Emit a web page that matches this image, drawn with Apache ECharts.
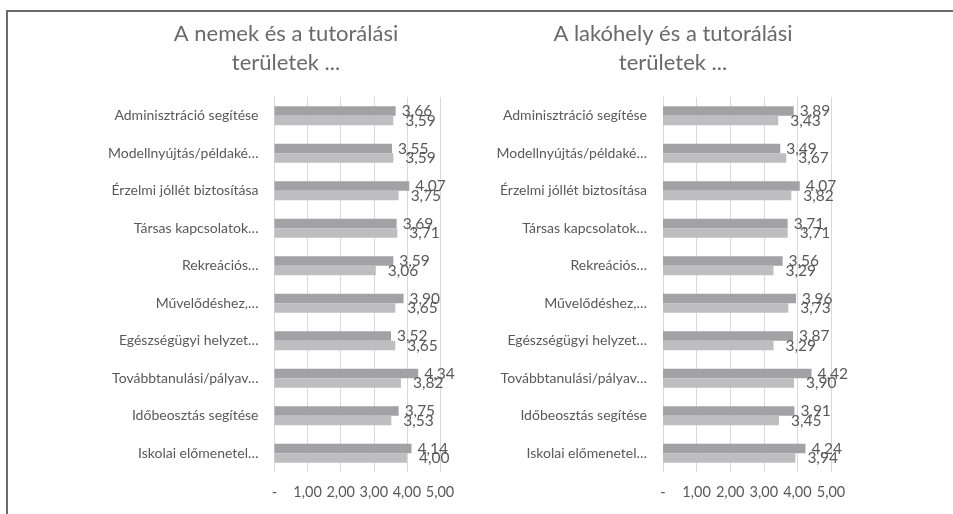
<!DOCTYPE html>
<html>
<head>
<meta charset="utf-8">
<script src="https://cdn.jsdelivr.net/npm/echarts@6/dist/echarts.min.js"></script>
<style>
  html, body { margin: 0; padding: 0; background: #fff; }
  #main { width: 953px; height: 514px; }
</style>
</head>
<body>
<div id="main"></div>
<script>
var categories = [
  'Adminisztráció segítése',
  'Modellnyújtás/példaké…',
  'Érzelmi jóllét biztosítása',
  'Társas kapcsolatok…',
  'Rekreációs…',
  'Művelődéshez,…',
  'Egészségügyi helyzet…',
  'Továbbtanulási/pályav…',
  'Időbeosztás segítése',
  'Iskolai előmenetel…'
];
// left chart: nemek
var nemekA = [3.66, 3.55, 4.07, 3.69, 3.59, 3.90, 3.52, 4.34, 3.75, 4.14];
var nemekB = [3.59, 3.59, 3.75, 3.71, 3.06, 3.65, 3.65, 3.82, 3.53, 4.00];
// right chart: lakohely
var lakA = [3.89, 3.49, 4.07, 3.71, 3.56, 3.96, 3.87, 4.42, 3.91, 4.24];
var lakB = [3.43, 3.67, 3.82, 3.71, 3.29, 3.73, 3.29, 3.90, 3.45, 3.94];
var titles = ['A nemek és a tutorálási\nterületek ...', 'A lakóhely és a tutorálási\nterületek ...'];

var font = 'Lato';
var txt = '#595959';

function fmt(v) {
  return v === 0 ? '-' : v.toFixed(2).replace('.', ',');
}

function xAx(i) {
  return {
    type: 'value', gridIndex: i, min: 0, max: 5, interval: 1,
    axisLine: { show: false }, axisTick: { show: false },
    splitLine: { lineStyle: { color: '#d9d9d9' } },
    axisLabel: { color: txt, fontFamily: font, fontSize: 14.5, margin: 13, formatter: fmt }
  };
}
function yAx(i) {
  return {
    type: 'category', gridIndex: i, data: categories, inverse: true,
    axisLine: { lineStyle: { color: '#d9d9d9' } }, axisTick: { show: false },
    axisLabel: { color: txt, fontFamily: font, fontSize: 14, margin: 16 }
  };
}
function bar(i, data, color, dist) {
  return {
    type: 'bar', xAxisIndex: i, yAxisIndex: i, data: data,
    barWidth: 9.5, barGap: 0,
    itemStyle: { color: color },
    label: {
      show: true, position: 'right', distance: dist,
      color: txt, fontFamily: font, fontSize: 15.5,
      formatter: function (p) { return fmt(p.value); }
    }
  };
}

var chart = echarts.init(document.getElementById('main'));
chart.setOption({
  animation: false,
  title: [
    { text: titles[0], left: 286, top: 19, padding: 0, textAlign: 'center',
      textStyle: { color: '#6a6a6a', fontFamily: font, fontWeight: 'normal', fontSize: 22, lineHeight: 29 } },
    { text: titles[1], left: 673, top: 19, padding: 0, textAlign: 'center',
      textStyle: { color: '#6a6a6a', fontFamily: font, fontWeight: 'normal', fontSize: 22, lineHeight: 29 } }
  ],
  grid: [
    { left: 274.5, top: 97, width: 165.5, height: 375 },
    { left: 663, top: 97, width: 168, height: 375 }
  ],
  xAxis: [xAx(0), xAx(1)],
  yAxis: [yAx(0), yAx(1)],
  series: [
    bar(0, nemekA, '#a2a2a4', 6),
    bar(0, nemekB, '#bebec0', 12),
    bar(1, lakA, '#a2a2a4', 6),
    bar(1, lakB, '#bebec0', 12)
  ],
  graphic: [
    { type: 'line', shape: { x1: 7, y1: 11, x2: 953, y2: 11 }, style: { stroke: '#6b6b6b', lineWidth: 2 } },
    { type: 'line', shape: { x1: 7, y1: 10, x2: 7, y2: 514 }, style: { stroke: '#6b6b6b', lineWidth: 2 } }
  ]
});
</script>
</body>
</html>
